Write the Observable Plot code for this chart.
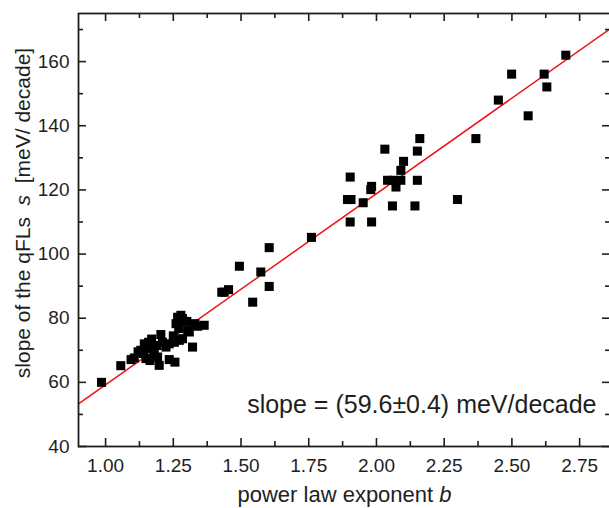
<!DOCTYPE html>
<html><head><meta charset="utf-8">
<script src="https://cdn.jsdelivr.net/npm/d3@7"></script>
<script src="https://cdn.jsdelivr.net/npm/@observablehq/plot@0.6"></script>
<style>
  html, body { margin: 0; background: #fff; overflow: hidden; }
  #chart svg { display: block; max-width: none !important; }
</style>
</head><body><div id="chart"></div>
<script>
// power law exponent b (x) and slope of the qFLs s in meV/decade (y)
const exponentB = [
  0.985, 1.056, 1.094, 1.106, 1.130, 1.143, 1.159, 1.167, 1.149, 1.164,
  1.192, 1.198, 1.180, 1.204, 1.235, 1.256, 1.223, 1.235, 1.254, 1.272,
  1.284, 1.260, 1.266, 1.278, 1.284, 1.272, 1.303, 1.309, 1.321, 1.364,
  1.150, 1.190, 1.210, 1.250, 1.270, 1.330, 1.340, 1.300, 1.170, 1.140, 1.120,
  1.429, 1.438, 1.454, 1.494, 1.543, 1.573, 1.604, 1.604, 1.760,
  1.893, 1.906, 1.903, 1.903, 1.951, 1.979, 1.982, 1.982, 2.031, 2.041,
  2.062, 2.059, 2.072, 2.090, 2.090, 2.100, 2.142, 2.151, 2.151, 2.160,
  2.299, 2.367,
  2.450, 2.499, 2.560, 2.619, 2.629, 2.699
];
const slopeS = [
  60.0, 65.2, 67.1, 67.6, 70.0, 72.0, 72.5, 71.5, 67.4, 66.8,
  67.9, 65.3, 69.4, 74.9, 67.1, 66.3, 71.0, 72.0, 72.5, 73.1,
  73.6, 78.3, 80.3, 80.9, 79.9, 78.8, 76.2, 75.7, 71.0, 77.8,
  70.5, 71.5, 72.5, 74.5, 76.8, 78.3, 77.5, 79.0, 73.5, 69.0, 69.5,
  88.1, 88.1, 88.9, 96.2, 85.0, 94.4, 89.9, 102.0, 105.2,
  117.0, 117.0, 124.0, 110.0, 116.0, 120.1, 121.1, 110.0, 132.7, 123.0,
  123.0, 115.0, 120.9, 123.0, 126.1, 128.9, 115.0, 132.1, 123.0, 136.0,
  117.0, 136.0,
  148.0, 156.1, 143.1, 156.1, 152.1, 162.0
];

// linear fit, end points read at the frame edges
const fitB = [0.9, 2.864];
const fitS = [53.3, 170.3];

const xDomain = [0.9, 2.864];
const yDomain = [40, 175];
const xMajorTicks = [1.00, 1.25, 1.50, 1.75, 2.00, 2.25, 2.50, 2.75];
const xMinorTicks = [1.125, 1.375, 1.625, 1.875, 2.125, 2.375, 2.625];
const yMajorTicks = [40, 60, 80, 100, 120, 140, 160];
const yMinorTicks = [50, 70, 90, 110, 130, 150, 170];

const xTitle = ["power law exponent ", "b"];
const yTitle = ["slope of the qFLs  ", "s", "  [meV/ decade]"];
const fitNote = "slope = (59.6\u00B10.4) meV/decade";

const points = exponentB.map((b, i) => ({b, s: slopeS[i]}));
const fit = fitB.map((b, i) => ({b, s: fitS[i]}));

const W = 612, H = 508;
const mL = 78, mR = 2, mT = 13, mB = 62;
const frameW = W - mL - mR, frameH = H - mT - mB;
const ink = "#1e1e1e";

const tickMarks = (vals, len, sw) => [
  Plot.tickX(vals, {x: d => d, insetTop: frameH - len, stroke: ink, strokeWidth: sw}),
  Plot.tickX(vals, {x: d => d, insetBottom: frameH - len, stroke: ink, strokeWidth: sw}),
];
const tickMarksY = (vals, len, sw) => [
  Plot.tickY(vals, {y: d => d, insetRight: frameW - len, stroke: ink, strokeWidth: sw}),
  Plot.tickY(vals, {y: d => d, insetLeft: frameW - len, stroke: ink, strokeWidth: sw}),
];

const chart = Plot.plot({
  width: W, height: H,
  marginLeft: mL, marginRight: mR, marginTop: mT, marginBottom: mB,
  style: {fontFamily: "'Liberation Sans', Arial, sans-serif", color: ink, background: "#fff", maxWidth: "none", overflow: "hidden"},
  x: {domain: xDomain, axis: null},
  y: {domain: yDomain, axis: null},
  marks: [
    Plot.line(fit, {x: "b", y: "s", stroke: "#f01010", strokeWidth: 1.5}),
    Plot.dot(points, {x: "b", y: "s", symbol: "square", r: 5.1, fill: "#000", stroke: "none"}),
    ...tickMarks(xMajorTicks, 8, 1.6),
    ...tickMarks(xMinorTicks, 5, 1.6),
    ...tickMarksY(yMajorTicks, 8, 1.6),
    ...tickMarksY(yMinorTicks, 5, 1.6),
    Plot.frame({stroke: ink, strokeWidth: 1.8}),
    Plot.axisX(xMajorTicks, {anchor: "bottom", tickSize: 0, tickPadding: 12, tickFormat: d => d.toFixed(2), fontSize: 19, label: null, fill: ink}),
    Plot.axisY(yMajorTicks, {anchor: "left", tickSize: 0, tickPadding: 9, tickFormat: d => String(d), fontSize: 19, label: null, fill: ink}),
    Plot.text([xTitle.join("")], {frameAnchor: "bottom", dy: 55, fontSize: 22, textAnchor: "middle", fill: ink, text: d => d}),
    Plot.text([yTitle.join("")], {frameAnchor: "left", dx: -55, dy: -17, rotate: -90, fontSize: 21, textAnchor: "middle", fill: ink, text: d => d}),
    Plot.text([fitNote], {frameAnchor: "bottom-right", dx: -14, dy: -34, textAnchor: "end", fontSize: 25, fill: ink, text: d => d})
  ]
});

// italic symbols inside the axis titles
function richify(svg, parts, italicIndex) {
  const full = parts.join("");
  d3.select(svg).selectAll("text").each(function() {
    if (this.textContent === full) {
      const t = d3.select(this);
      t.text(null).style("white-space", "pre").attr("text-anchor", "middle");
      parts.forEach((p, i) => {
        const ts = t.append("tspan").text(p);
        if (i === italicIndex) ts.style("font-style", "italic");
      });
    }
  });
}
richify(chart, xTitle, 1);
richify(chart, yTitle, 1);

document.getElementById("chart").appendChild(chart);
</script>
</body></html>
